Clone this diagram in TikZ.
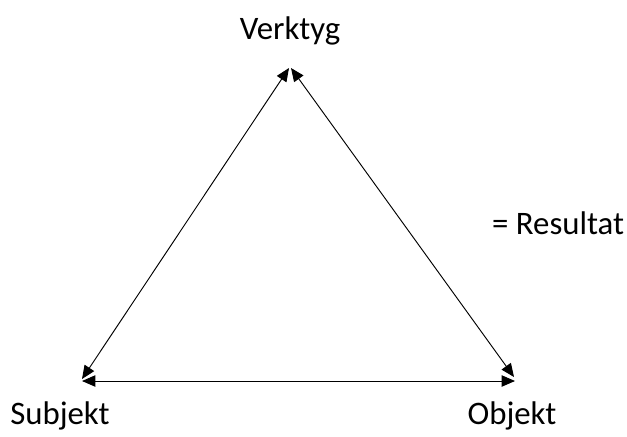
\documentclass[tikz,border=0pt]{standalone}
\usepackage{fontspec}
\setmainfont{Carlito}
\usetikzlibrary{arrows.meta,positioning}

\begin{document}
\begin{tikzpicture}[
    x=0.03cm, y=-0.03cm,
    lbl/.style={font=\fontsize{28}{32}\selectfont, text=black, inner sep=0pt},
    arr/.style={{Triangle[length=4mm,width=3.4mm]}-{Triangle[length=4mm,width=3.4mm]}, line width=0.8pt, black},
]
\useasboundingbox (0,0) rectangle (627,436);

% Labels
\node[lbl] (verktyg) at (290,31) {Verktyg};
\node[lbl] (subjekt) at (60,416) {Subjekt};
\node[lbl] (objekt) at (512,416) {Objekt};
\node[lbl, anchor=west] (resultat) at (492,223) {= Resultat};

% Corners
\coordinate (topL) at (289,68);
\coordinate (topR) at (291,68);
\coordinate (leftD) at (82,379);
\coordinate (leftH) at (82,381);
\coordinate (rightD) at (514,377);
\coordinate (rightH) at (515,381);

% Arrows
\draw[arr] (topL) -- (leftD);
\draw[arr] (topR) -- (rightD);
\draw[arr] (leftH) -- (rightH);
\end{tikzpicture}
\end{document}
